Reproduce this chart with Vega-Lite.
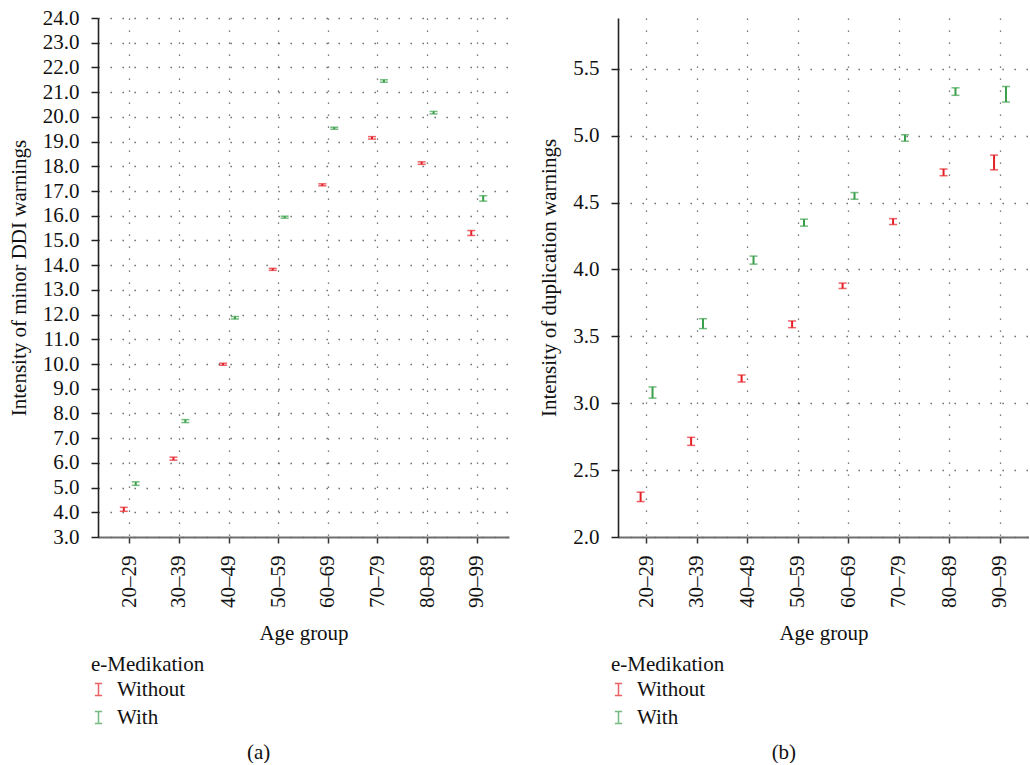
{
  "$schema": "https://vega.github.io/schema/vega-lite/v6.json",
  "padding": {"left": 8, "top": 7, "right": 0, "bottom": 0},
  "spacing": 29,
  "datasets": {
    "ddi": [
      {"age": "20–29", "med": "Without", "lo": 4.04, "hi": 4.20},
      {"age": "20–29", "med": "With", "lo": 5.09, "hi": 5.23},
      {"age": "30–39", "med": "Without", "lo": 6.11, "hi": 6.23},
      {"age": "30–39", "med": "With", "lo": 7.63, "hi": 7.75},
      {"age": "40–49", "med": "Without", "lo": 9.95, "hi": 10.03},
      {"age": "40–49", "med": "With", "lo": 11.82, "hi": 11.92},
      {"age": "50–59", "med": "Without", "lo": 13.79, "hi": 13.87},
      {"age": "50–59", "med": "With", "lo": 15.90, "hi": 15.98},
      {"age": "60–69", "med": "Without", "lo": 17.21, "hi": 17.29},
      {"age": "60–69", "med": "With", "lo": 19.50, "hi": 19.58},
      {"age": "70–79", "med": "Without", "lo": 19.10, "hi": 19.20},
      {"age": "70–79", "med": "With", "lo": 21.40, "hi": 21.50},
      {"age": "80–89", "med": "Without", "lo": 18.08, "hi": 18.18},
      {"age": "80–89", "med": "With", "lo": 20.12, "hi": 20.22},
      {"age": "90–99", "med": "Without", "lo": 15.20, "hi": 15.40},
      {"age": "90–99", "med": "With", "lo": 16.59, "hi": 16.81}
    ],
    "dup": [
      {"age": "20–29", "med": "Without", "lo": 2.265, "hi": 2.335},
      {"age": "20–29", "med": "With", "lo": 3.038, "hi": 3.122},
      {"age": "30–39", "med": "Without", "lo": 2.685, "hi": 2.745},
      {"age": "30–39", "med": "With", "lo": 3.558, "hi": 3.632},
      {"age": "40–49", "med": "Without", "lo": 3.159, "hi": 3.211},
      {"age": "40–49", "med": "With", "lo": 4.04, "hi": 4.10},
      {"age": "50–59", "med": "Without", "lo": 3.565, "hi": 3.615},
      {"age": "50–59", "med": "With", "lo": 4.324, "hi": 4.376},
      {"age": "60–69", "med": "Without", "lo": 3.858, "hi": 3.898},
      {"age": "60–69", "med": "With", "lo": 4.525, "hi": 4.575},
      {"age": "70–79", "med": "Without", "lo": 4.336, "hi": 4.380},
      {"age": "70–79", "med": "With", "lo": 4.959, "hi": 5.007},
      {"age": "80–89", "med": "Without", "lo": 4.701, "hi": 4.751},
      {"age": "80–89", "med": "With", "lo": 5.302, "hi": 5.358},
      {"age": "90–99", "med": "Without", "lo": 4.745, "hi": 4.855},
      {"age": "90–99", "med": "With", "lo": 5.252, "hi": 5.368}
    ]
  },
  "resolve": {"legend": {"color": "independent"}},
  "hconcat": [
    {
      "width": 411,
      "height": 519,
      "data": {"name": "ddi"},
      "title": {"text": "(a)", "orient": "bottom", "frame": "bounds", "anchor": "middle", "offset": 14},
      "encoding": {
        "x": {
          "field": "age", "type": "nominal", "sort": null, "title": "Age group",
          "scale": {"paddingInner": 0.52, "paddingOuter": 0.4},
          "axis": {"labelAngle": 270, "bandPosition": 0.5, "grid": true, "domainColor": "#6e6e6e", "domainWidth": 2, "tickColor": "#333", "tickSize": 6, "tickWidth": 1.5, "labelPadding": 12, "titlePadding": 15}
        },
        "xOffset": {"field": "med", "type": "nominal", "sort": ["Without", "With"]},
        "color": {
          "field": "med", "type": "nominal", "title": "e-Medikation",
          "scale": {"domain": ["Without", "With"], "range": ["#e41f26", "#3a9f4a"]},
          "legend": {"orient": "none", "legendX": -7, "legendY": 636}
        }
      },
      "layer": [
        {
          "mark": {"type": "rule", "strokeWidth": 2},
          "encoding": {
            "y": {
              "field": "lo", "type": "quantitative", "title": "Intensity of minor DDI warnings",
              "scale": {"domain": [3, 24], "nice": false, "zero": false},
              "axis": {"values": [3,4,5,6,7,8,9,10,11,12,13,14,15,16,17,18,19,20,21,22,23,24], "format": ".1f", "labelOverlap": false}
            },
            "y2": {"field": "hi"}
          }
        },
        {
          "mark": {"type": "tick", "orient": "horizontal", "size": 8, "thickness": 1.5},
          "encoding": {"y": {"field": "lo", "type": "quantitative", "title": "Intensity of minor DDI warnings",
              "axis": {"values": [3,4,5,6,7,8,9,10,11,12,13,14,15,16,17,18,19,20,21,22,23,24], "format": ".1f", "labelOverlap": false}}}
        },
        {
          "mark": {"type": "tick", "orient": "horizontal", "size": 8, "thickness": 1.5},
          "encoding": {"y": {"field": "hi", "type": "quantitative", "title": "Intensity of minor DDI warnings",
              "axis": {"values": [3,4,5,6,7,8,9,10,11,12,13,14,15,16,17,18,19,20,21,22,23,24], "format": ".1f", "labelOverlap": false}}}
        }
      ]
    },
    {
      "width": 411,
      "height": 519,
      "data": {"name": "dup"},
      "title": {"text": "(b)", "orient": "bottom", "frame": "bounds", "anchor": "middle", "offset": 14},
      "encoding": {
        "x": {
          "field": "age", "type": "nominal", "sort": null, "title": "Age group",
          "scale": {"paddingInner": 0.52, "paddingOuter": 0.33},
          "axis": {"labelAngle": 270, "bandPosition": 0.5, "grid": true, "domainColor": "#6e6e6e", "domainWidth": 2, "tickColor": "#333", "tickSize": 6, "tickWidth": 1.5, "labelPadding": 12, "titlePadding": 15}
        },
        "xOffset": {"field": "med", "type": "nominal", "sort": ["Without", "With"]},
        "color": {
          "field": "med", "type": "nominal", "title": "e-Medikation",
          "scale": {"domain": ["Without", "With"], "range": ["#e41f26", "#3a9f4a"]},
          "legend": {"orient": "none", "legendX": -7, "legendY": 636}
        }
      },
      "layer": [
        {
          "mark": {"type": "rule", "strokeWidth": 2},
          "encoding": {
            "y": {
              "field": "lo", "type": "quantitative", "title": "Intensity of duplication warnings",
              "scale": {"domain": [2, 5.88], "nice": false, "zero": false},
              "axis": {"values": [2, 2.5, 3, 3.5, 4, 4.5, 5, 5.5], "format": ".1f", "labelOverlap": false}
            },
            "y2": {"field": "hi"}
          }
        },
        {
          "mark": {"type": "tick", "orient": "horizontal", "size": 8, "thickness": 1.5},
          "encoding": {"y": {"field": "lo", "type": "quantitative", "title": "Intensity of duplication warnings",
              "axis": {"values": [2, 2.5, 3, 3.5, 4, 4.5, 5, 5.5], "format": ".1f", "labelOverlap": false}}}
        },
        {
          "mark": {"type": "tick", "orient": "horizontal", "size": 8, "thickness": 1.5},
          "encoding": {"y": {"field": "hi", "type": "quantitative", "title": "Intensity of duplication warnings",
              "axis": {"values": [2, 2.5, 3, 3.5, 4, 4.5, 5, 5.5], "format": ".1f", "labelOverlap": false}}}
        }
      ]
    }
  ],
  "config": {
    "font": "Liberation Serif",
    "view": {"stroke": null},
    "axis": {
      "labelFont": "Liberation Serif",
      "titleFont": "Liberation Serif",
      "labelFontSize": 21,
      "titleFontSize": 21,
      "titleFontWeight": "normal",
      "labelColor": "#111",
      "titleColor": "#111",
      "gridColor": "#555",
      "gridWidth": 1.3,
      "gridDash": [1.3, 10.7]
    },
    "axisY": {
      "domainColor": "#222",
      "domainWidth": 1.6,
      "tickColor": "#222",
      "tickSize": 7,
      "tickWidth": 1.5,
      "labelPadding": 12,
      "titlePadding": 13,
      "labelOverlap": false
    },
    "axisQuantitative": {"labelOverlap": false},
    "legend": {
      "titleFont": "Liberation Serif",
      "labelFont": "Liberation Serif",
      "titleFontSize": 21,
      "labelFontSize": 21,
      "titleFontWeight": "normal",
      "titleColor": "#111",
      "labelColor": "#111",
      "titlePadding": 4,
      "rowPadding": 6,
      "labelOffset": 8,
      "symbolOffset": -3,
      "symbolType": "M-0.6,-1H0.6M0,-1V1M-0.6,1H0.6",
      "symbolSize": 144,
      "symbolStrokeWidth": 1.5
    },
    "title": {
      "font": "Liberation Serif",
      "fontSize": 21,
      "fontWeight": "normal",
      "color": "#111"
    }
  }
}
